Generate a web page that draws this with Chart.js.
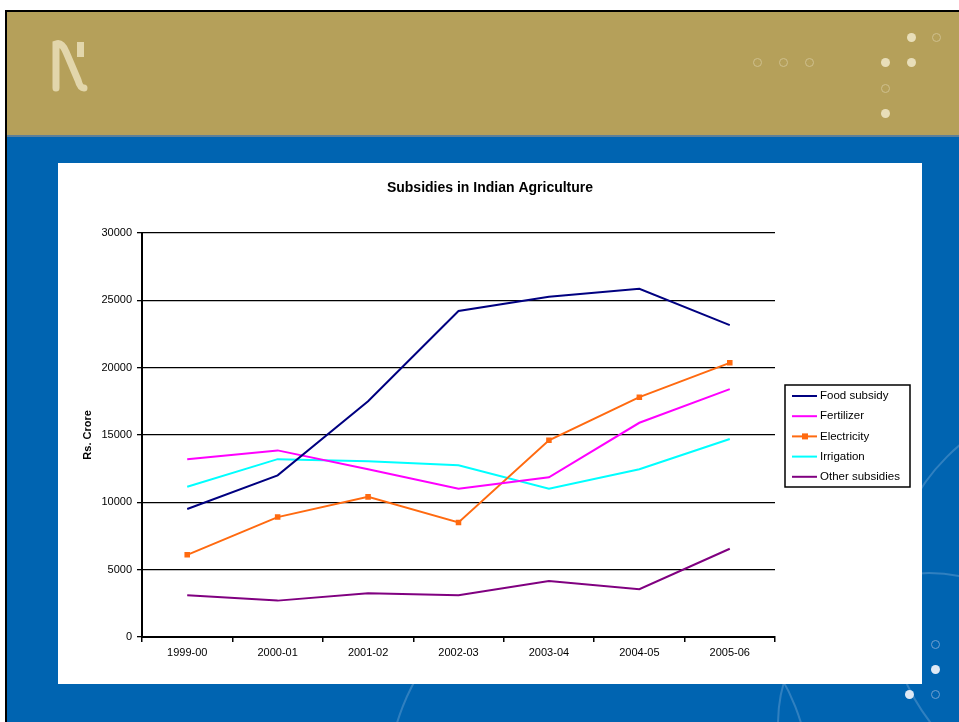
<!DOCTYPE html>
<html>
<head>
<meta charset="utf-8">
<script src="https://cdn.jsdelivr.net/npm/chart.js@4.4.1/dist/chart.umd.min.js"></script>
<style>
  html, body { margin: 0; padding: 0; background: #fff; overflow: hidden; }
  body { width: 959px; height: 722px; position: relative; font-family: Arial, 'Liberation Sans', sans-serif; }
  .slide { position: absolute; left: 5px; top: 10px; width: 954px; height: 712px; border-left: 2px solid #000; border-top: 2px solid #000; background: #0064b1; overflow: hidden; }
  .band { position: absolute; left: 0; top: 0; right: 0; height: 123px; background: #b5a05a; border-bottom: 2px solid #5d7f98; }
  .dot { position: absolute; width: 9px; height: 9px; border-radius: 50%; box-sizing: border-box; }
  .gold.full { background: #e8deb9; }
  .gold.ring { border: 1.5px solid #cfc08e; }
  .blue.full { background: #dfe9f5; }
  .blue.ring { border: 1.5px solid #6f9fd0; }
  .arc { position: absolute; border-radius: 50%; border: 2px solid rgba(160, 195, 230, 0.3); }
  .box { position: absolute; left: 58px; top: 163px; width: 864px; height: 521px; background: #fff; }
  .logo { position: absolute; left: 44px; top: 30px; }
</style>
</head>
<body>
<div class="slide">
  <div class="band"></div>
  <div class="arc" style="left:880px; top:385px; width:400px; height:400px;"></div>
  <div class="arc" style="left:380px; top:560px; width:420px; height:420px;"></div>
  <div class="arc" style="left:770px; top:560px; width:300px; height:300px;"></div>
</div>
<svg class="logo" width="50" height="70">
  <path d="M12 58 L12 14 Q18 12 22 22 L34 50 Q36 58 40 58" fill="none" stroke="#e2d6ab" stroke-width="7" stroke-linecap="round"/>
  <rect x="33" y="12" width="7" height="15" fill="#e2d6ab"/>
</svg>
<div class="dot gold ring" style="left:753px; top:58px;"></div>
<div class="dot gold ring" style="left:779px; top:58px;"></div>
<div class="dot gold ring" style="left:805px; top:58px;"></div>
<div class="dot gold full" style="left:907px; top:33px;"></div>
<div class="dot gold ring" style="left:932px; top:33px;"></div>
<div class="dot gold full" style="left:881px; top:58px;"></div>
<div class="dot gold full" style="left:907px; top:58px;"></div>
<div class="dot gold ring" style="left:881px; top:84px;"></div>
<div class="dot gold full" style="left:881px; top:109px;"></div>
<div class="dot blue ring" style="left:931px; top:640px;"></div>
<div class="dot blue full" style="left:931px; top:665px;"></div>
<div class="dot blue full" style="left:905px; top:690px;"></div>
<div class="dot blue ring" style="left:931px; top:690px;"></div>
<div class="box"><canvas id="chart" width="864" height="521"></canvas></div>

<script>
// data (Rs. Crore)
const years = ['1999-00', '2000-01', '2001-02', '2002-03', '2003-04', '2004-05', '2005-06'];
const foodSubsidy = [9500, 12000, 17500, 24200, 25250, 25850, 23150];
const fertilizer  = [13200, 13850, 12450, 11000, 11850, 15900, 18400];
const electricity = [6100, 8900, 10400, 8500, 14600, 17800, 20350];
const irrigation  = [11150, 13200, 13050, 12750, 11000, 12450, 14700];
const otherSubs   = [3100, 2700, 3250, 3100, 4150, 3550, 6550];
const yTicks = [0, 5000, 10000, 15000, 20000, 25000, 30000];

const FONT = "Arial, 'Liberation Sans', sans-serif";

function series(label, data, color, marker) {
  return {
    label, data,
    borderColor: color,
    backgroundColor: color,
    borderWidth: 2,
    tension: 0,
    pointStyle: 'rect',
    pointRadius: marker ? 2.5 : 0,
    pointHoverRadius: marker ? 2.5 : 0,
  };
}

// legend box drawn to the right of the plot, like the spreadsheet original
const boxLegend = {
  id: 'boxLegend',
  afterDraw(chart) {
    const ctx = chart.ctx;
    const x = 727, y = 222, w = 125, h = 102;
    ctx.save();
    ctx.fillStyle = '#fff';
    ctx.fillRect(x, y, w, h);
    ctx.strokeStyle = '#000';
    ctx.lineWidth = 1.5;
    ctx.strokeRect(x, y, w, h);
    ctx.font = '11.5px ' + FONT;
    ctx.textBaseline = 'middle';
    chart.data.datasets.forEach((ds, i) => {
      const ry = y + 11 + i * 20.2;
      ctx.strokeStyle = ds.borderColor;
      ctx.lineWidth = 2;
      ctx.beginPath();
      ctx.moveTo(x + 7, ry);
      ctx.lineTo(x + 32, ry);
      ctx.stroke();
      if (ds.pointRadius > 0) {
        ctx.fillStyle = ds.borderColor;
        ctx.fillRect(x + 17, ry - 3, 6, 6);
      }
      ctx.fillStyle = '#000';
      ctx.fillText(ds.label, x + 35, ry);
    });
    ctx.restore();
  }
};

new Chart(document.getElementById('chart'), {
  type: 'line',
  data: {
    labels: years,
    datasets: [
      series('Food subsidy', foodSubsidy, '#000080'),
      series('Fertilizer', fertilizer, '#ff00ff'),
      series('Electricity', electricity, '#ff6a10', true),
      series('Irrigation', irrigation, '#00ffff'),
      series('Other subsidies', otherSubs, '#800080'),
    ]
  },
  options: {
    responsive: false,
    animation: false,
    layout: { padding: 0 },
    plugins: {
      legend: { display: false },
      tooltip: { enabled: false },
      title: {
        display: true,
        text: 'Subsidies in Indian Agriculture',
        color: '#000',
        font: { family: FONT, size: 14, weight: 'bold' },
        padding: { top: 17, bottom: 36 },
      },
    },
    scales: {
      x: {
        offset: true,
        afterFit: s => { s.height = 47; },
        grid: { display: true, offset: true, drawOnChartArea: false, color: '#000', tickLength: 5, lineWidth: 1.5 },
        border: { color: '#000', width: 2 },
        ticks: { color: '#000', font: { family: FONT, size: 11 }, padding: 4, maxRotation: 0 },
      },
      y: {
        min: 0, max: 30000,
        afterFit: s => { s.width = 84; },
        afterBuildTicks: s => { s.ticks = yTicks.map(v => ({ value: v })); },
        grid: { color: '#000', lineWidth: 1.3, tickLength: 5 },
        border: { color: '#000', width: 2 },
        ticks: { color: '#000', font: { family: FONT, size: 11 }, padding: 5, callback: v => String(v) },
        title: {
          display: true,
          text: 'Rs. Crore',
          color: '#000',
          font: { family: FONT, size: 11, weight: 'bold' },
          padding: { top: 23, bottom: 0 },
        },
      },
      // empty right-hand axis: keeps room for the legend so the title stays centred on the whole box
      legendSpace: {
        type: 'linear',
        position: 'right',
        afterFit: s => { s.width = 147; },
        grid: { display: false },
        border: { display: false },
        ticks: { display: false },
      },
    },
  },
  plugins: [boxLegend],
});
</script>
</body>
</html>
